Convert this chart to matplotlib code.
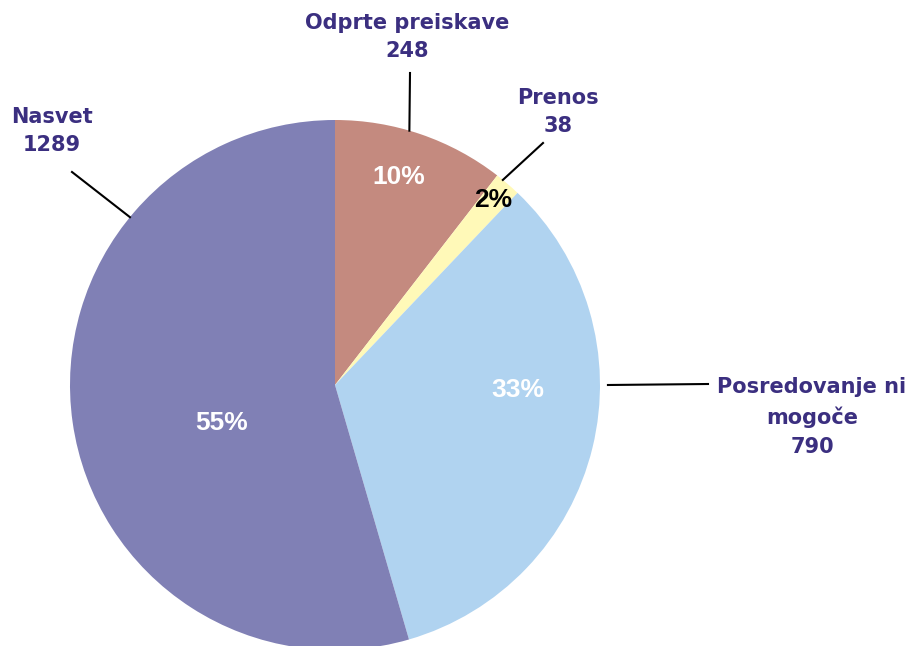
import numpy as np
import matplotlib
matplotlib.use("Agg")
import matplotlib.pyplot as plt
from matplotlib import font_manager

categories = ["Odprte preiskave", "Prenos", "Posredovanje ni\nmogoče", "Nasvet"]
values = [248, 38, 790, 1289]
colors = ["#C48A7F", "#FFF9B8", "#B0D3F0", "#8080B5"]

W, H = 911, 646
cx, cy, R = 335, H - 385, 265

# label placement (pixel coords, y from top) and leader-line start (angle, radius factor)
label_xy = [(407, 37), (558, 112), (812, 417), (52, 131)]
line_start = [(73.7, 1.0), (50.7, 1.0), (0.0, 1.03), (140.7, 1.0)]
line_end = [(410, 73), (543, 143), (708, 384), (72, 172)]
# percent text placement (angle deg, radius factor)
pct_pos = [(73.0, 0.82), (49.5, 0.92), (-1.6, 0.69), (198.6, 0.45)]
pct_colors = ["white", "black", "white", "white"]
text_color = "#3B2F80"

# regular-width Liberation Sans Bold (avoid the Narrow variant)
pct_font = None
for f in font_manager.fontManager.ttflist:
    if f.name == "Liberation Sans" and f.weight in (700, "bold") and f.style == "normal" \
            and "Narrow" not in f.fname:
        pct_font = font_manager.FontProperties(fname=f.fname, size=19)
        break
if pct_font is None:
    pct_font = font_manager.FontProperties(family="DejaVu Sans", weight="bold", size=17)

fig = plt.figure(figsize=(W / 100, H / 100), dpi=100)
ax = fig.add_axes([0, 0, 1, 1])

ax.pie(values, colors=colors, startangle=90, counterclock=False,
       center=(cx, cy), radius=R, wedgeprops=dict(linewidth=0),
       frame=True)
ax.set_xlim(0, W)
ax.set_ylim(0, H)
ax.set_aspect("equal")
ax.axis("off")

total = sum(values)
for i, v in enumerate(values):
    pct = f"{round(100 * v / total)}%"
    a, r = pct_pos[i]
    x = cx + r * R * np.cos(np.radians(a))
    y = cy + r * R * np.sin(np.radians(a))
    ax.text(x, y, pct, ha="center", va="center", fontproperties=pct_font,
            color=pct_colors[i])

    lx, ly = label_xy[i]
    ax.text(lx, H - ly, f"{categories[i]}\n{v}", ha="center", va="center",
            fontsize=15, fontweight="bold", family="DejaVu Sans",
            color=text_color, linespacing=1.55)

    a, r = line_start[i]
    sx = cx + r * R * np.cos(np.radians(a))
    sy = cy + r * R * np.sin(np.radians(a))
    ex, ey = line_end[i]
    ax.plot([sx, ex], [sy, H - ey], color="black", linewidth=1.5)

fig.savefig("out.png", dpi=100)
